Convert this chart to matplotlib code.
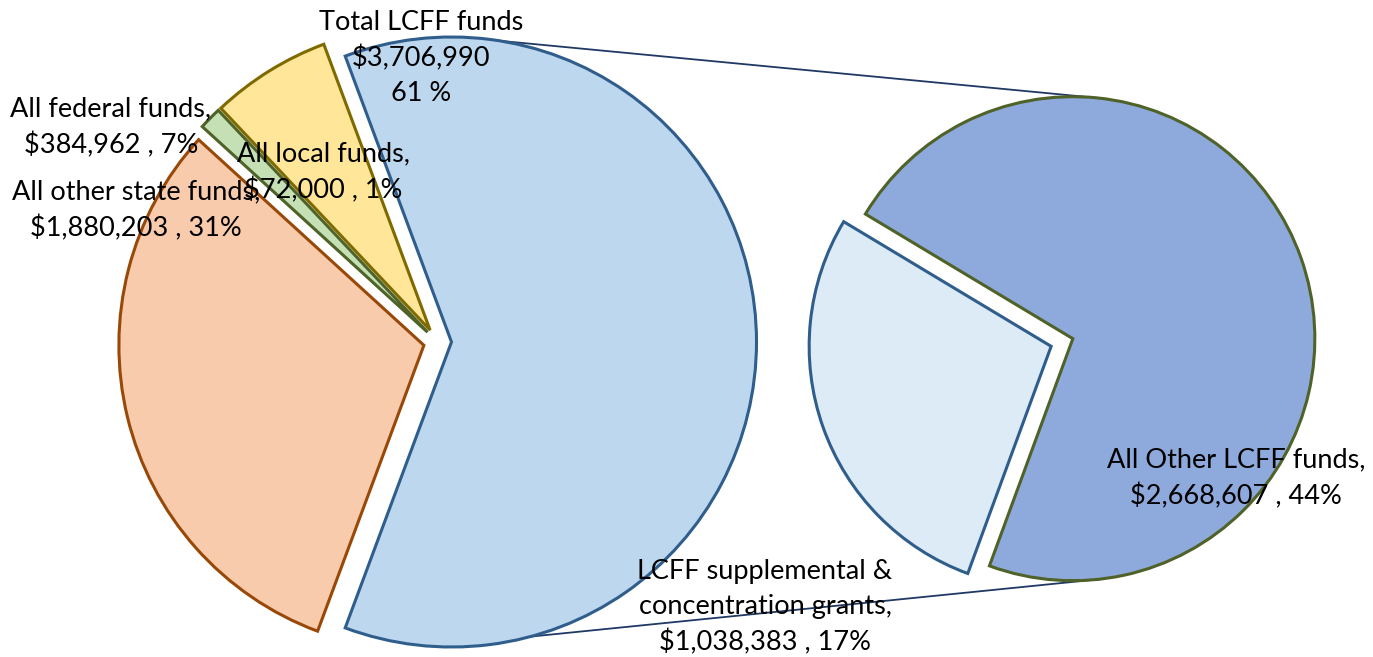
import numpy as np
import matplotlib.pyplot as plt

# main pie: LCFF total, federal, local, other state
main_names = ['Total LCFF funds', 'All federal funds,', 'All local funds,', 'All other state funds,']
main_values = [3706990, 384962, 72000, 1880203]
main_pct = ['61 %', '7%', '1%', '31%']
main_colors = ['#BDD7EE', '#FFE699', '#C5E0B4', '#F8CBAD']
main_edges = ['#2F5D8C', '#7F6A00', '#4F6228', '#984807']

# secondary pie: split of the LCFF slice
sub_names = ['LCFF supplemental &\nconcentration grants,', 'All Other LCFF funds,']
sub_values = [1038383, 2668607]
sub_pct = ['17%', '44%']
sub_colors = ['#DDEBF7', '#8EA9DB']
sub_edges = ['#2F5D8C', '#4F6228']

W, H = 1373, 657
plt.rcParams['font.family'] = ['Lato', 'DejaVu Sans']

fig = plt.figure(figsize=(W / 100, H / 100), dpi=100)
ax = fig.add_axes([0, 0, 1, 1])

# left pie, LCFF slice centred on the right-hand side
# (explode is in data units here, i.e. pixels)
c1, r1 = (437.5, H - 342), 305
frac_lcff = main_values[0] / sum(main_values)
wedges1, _ = ax.pie(main_values, colors=main_colors, center=c1, radius=r1,
                    startangle=-frac_lcff * 180, counterclock=True,
                    explode=[14] * 4, frame=True,
                    wedgeprops=dict(linewidth=2.2, joinstyle='miter'))
for w, ec in zip(wedges1, main_edges):
    w.set_edgecolor(ec)

# right pie
c2, r2 = (1062, H - 342.5), 242
wedges2, _ = ax.pie(sub_values, colors=sub_colors, center=c2, radius=r2,
                    startangle=149, counterclock=True,
                    explode=[11.5] * 2, frame=True,
                    wedgeprops=dict(linewidth=2.2, joinstyle='miter'))
for w, ec in zip(wedges2, sub_edges):
    w.set_edgecolor(ec)

# connector lines between the two pies
def arc_point(wedge, ang):
    cx, cy = wedge.center
    a = np.deg2rad(ang)
    return cx + wedge.r * np.cos(a), cy + wedge.r * np.sin(a)

for a_left, a_right in [(81, 84), (-75, -84)]:
    x0, y0 = arc_point(wedges1[0], a_left)
    x1, y1 = arc_point(wedges2[1], a_right)
    ax.plot([x0, x1], [y0, y1], color='#1F3864', lw=1.3, zorder=0.5)

fs = 19.5
ls = 1.5
def money(v):
    return '\\$' + f'{v:,}'

ax.text(421, H - 58, f'{main_names[0]}\n{money(main_values[0])}\n{main_pct[0]}',
        ha='center', va='center', fontsize=fs, linespacing=ls)
ax.text(111, H - 127.5, f'{main_names[1]}\n{money(main_values[1])} , {main_pct[1]}',
        ha='center', va='center', fontsize=fs, linespacing=ls)
ax.text(323, H - 172.5, f'{main_names[2]}\n{money(main_values[2])} , {main_pct[2]}',
        ha='center', va='center', fontsize=fs, linespacing=ls)
ax.text(136, H - 210, f'{main_names[3]}\n{money(main_values[3])} , {main_pct[3]}',
        ha='center', va='center', fontsize=fs, linespacing=ls)
ax.text(765, H - 607, f'{sub_names[0]}\n{money(sub_values[0])} , {sub_pct[0]}',
        ha='center', va='center', fontsize=fs, linespacing=ls)
ax.text(1236, H - 478.5, f'{sub_names[1]}\n{money(sub_values[1])} , {sub_pct[1]}',
        ha='center', va='center', fontsize=fs, linespacing=ls)

ax.set_xlim(0, W)
ax.set_ylim(0, H)
ax.set_aspect('equal')
ax.axis('off')

fig.savefig('out.png', dpi=100)
